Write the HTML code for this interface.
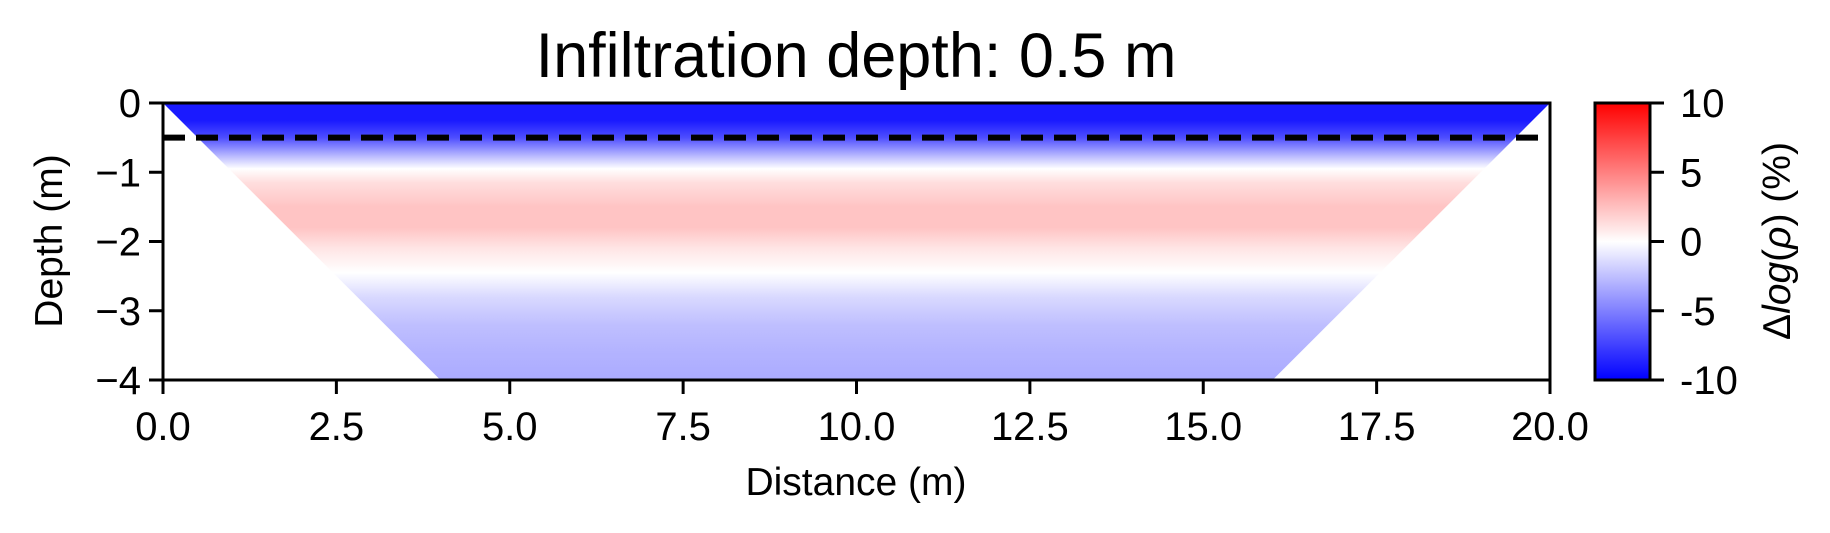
<!DOCTYPE html>
<html><head><meta charset="utf-8"><style>
html,body{margin:0;padding:0;background:#fff;}
svg{display:block;font-family:"Liberation Sans",Arial,sans-serif;}
</style></head><body>
<svg id="chart" width="1830" height="533" viewBox="0 0 1830 533">
<defs>
<linearGradient id="fieldGrad" x1="0" y1="0" x2="0" y2="1"></linearGradient>
<linearGradient id="cbarGrad" x1="0" y1="1" x2="0" y2="0"></linearGradient>
</defs>
<text x="856" y="77" font-size="63" text-anchor="middle">Infiltration depth: 0.5 m</text>
<g id="plot"></g>
<text x="856" y="495" font-size="39" text-anchor="middle">Distance (m)</text>
<text transform="translate(62,241) rotate(-90)" font-size="39" text-anchor="middle">Depth (m)</text>
<g id="cbar"></g>
<text transform="translate(1790,241) rotate(-90)" font-size="39" text-anchor="middle">Δ<tspan font-style="italic">log</tspan>(<tspan font-style="italic">ρ</tspan>) (%)</text>
</svg>
<script>
// data
const depths = [0, 0.25, 0.5, 0.75, 0.95, 1.15, 1.5, 1.8, 2.1, 2.45, 2.8, 3.2, 3.6, 4.0];
const values = [-9, -9, -7, -3, 0, 1.3, 2.3, 2.3, 1, 0, -1.5, -2.5, -3, -3.3];
const trapX = [0, 20, 16, 4];
const trapY = [0, 0, -4, -4];
const xTicks = [0, 2.5, 5, 7.5, 10, 12.5, 15, 17.5, 20];
const xTickLabels = ["0.0", "2.5", "5.0", "7.5", "10.0", "12.5", "15.0", "17.5", "20.0"];
const yTicks = [0, -1, -2, -3, -4];
const yTickLabels = ["0", "\u22121", "\u22122", "\u22123", "\u22124"];
const infiltrationDepth = [0.5];
const cbTicks = [10, 5, 0, -5, -10];
const cbTickLabels = ["10", "5", "0", "-5", "-10"];

const NS = "http://www.w3.org/2000/svg";
const X0 = 163, X1 = 1550, Y0 = 103, Y1 = 380;
const xS = v => X0 + (v - 0) / 20 * (X1 - X0);
const yS = v => Y0 + (0 - v) / 4 * (Y1 - Y0);
const CB = {x0: 1595, x1: 1650, y0: 103, y1: 380};
const cS = v => CB.y1 - (v + 10) / 20 * (CB.y1 - CB.y0);
function bwr(v){
  let t = Math.max(0, Math.min(1, (v + 10) / 20));
  let r, g, b;
  if (t < 0.5){ r = g = Math.round(255 * t * 2); b = 255; }
  else { r = 255; g = b = Math.round(255 * (1 - (t - 0.5) * 2)); }
  return `rgb(${r},${g},${b})`;
}
function mk(tag, attrs, parent){
  const e = document.createElementNS(NS, tag);
  for (const k in attrs) e.setAttribute(k, attrs[k]);
  parent.appendChild(e);
  return e;
}
const plot = document.getElementById('plot');
const fg = document.getElementById('fieldGrad');
depths.forEach((d, i) => {
  mk('stop', {offset: (d / 4), 'stop-color': bwr(values[i])}, fg);
});
const pts = trapX.map((x, i) => xS(x) + ',' + yS(trapY[i])).join(' ');
const poly = mk('polygon', {points: pts, fill: 'url(#fieldGrad)'}, plot);



infiltrationDepth.forEach(d => {
  const l = mk('line', {x1: xS(0), x2: xS(19.9), y1: yS(-d), y2: yS(-d), stroke: '#000', 'stroke-width': 6, 'stroke-dasharray': '22 11'}, plot);
  
  
});

const frame = mk('rect', {x: X0, y: Y0, width: X1 - X0, height: Y1 - Y0, fill: 'none', stroke: '#000', 'stroke-width': 3}, plot);



xTicks.forEach((v, i) => {
  const t = mk('line', {x1: xS(v), x2: xS(v), y1: Y1, y2: Y1 + 14, stroke: '#000', 'stroke-width': 3}, plot);
  
  
  const tx = mk('text', {x: xS(v), y: 440, 'font-size': 40, 'text-anchor': 'middle'}, plot);
  tx.textContent = xTickLabels[i];
  
  
});
yTicks.forEach((v, i) => {
  const t = mk('line', {x1: X0 - 14, x2: X0, y1: yS(v), y2: yS(v), stroke: '#000', 'stroke-width': 3}, plot);
  
  
  const tx = mk('text', {x: X0 - 22, y: yS(v) + 14, 'font-size': 40, 'text-anchor': 'end'}, plot);
  tx.textContent = yTickLabels[i];
  
  
});

// colorbar
const cg = document.getElementById('cbarGrad');
for (let k = 0; k <= 20; k++){
  mk('stop', {offset: k / 20, 'stop-color': bwr(-10 + k)}, cg);
}
const cbar = document.getElementById('cbar');
const cr = mk('rect', {x: CB.x0, y: CB.y0, width: CB.x1 - CB.x0, height: CB.y1 - CB.y0, fill: 'url(#cbarGrad)', stroke: '#000', 'stroke-width': 3}, cbar);


cbTicks.forEach((v, i) => {
  const t = mk('line', {x1: CB.x1, x2: CB.x1 + 14, y1: cS(v), y2: cS(v), stroke: '#000', 'stroke-width': 3}, cbar);
  
  
  const tx = mk('text', {x: 1680, y: cS(v) + 14, 'font-size': 40}, cbar);
  tx.textContent = cbTickLabels[i];
  
  
});
</script>
</body></html>
